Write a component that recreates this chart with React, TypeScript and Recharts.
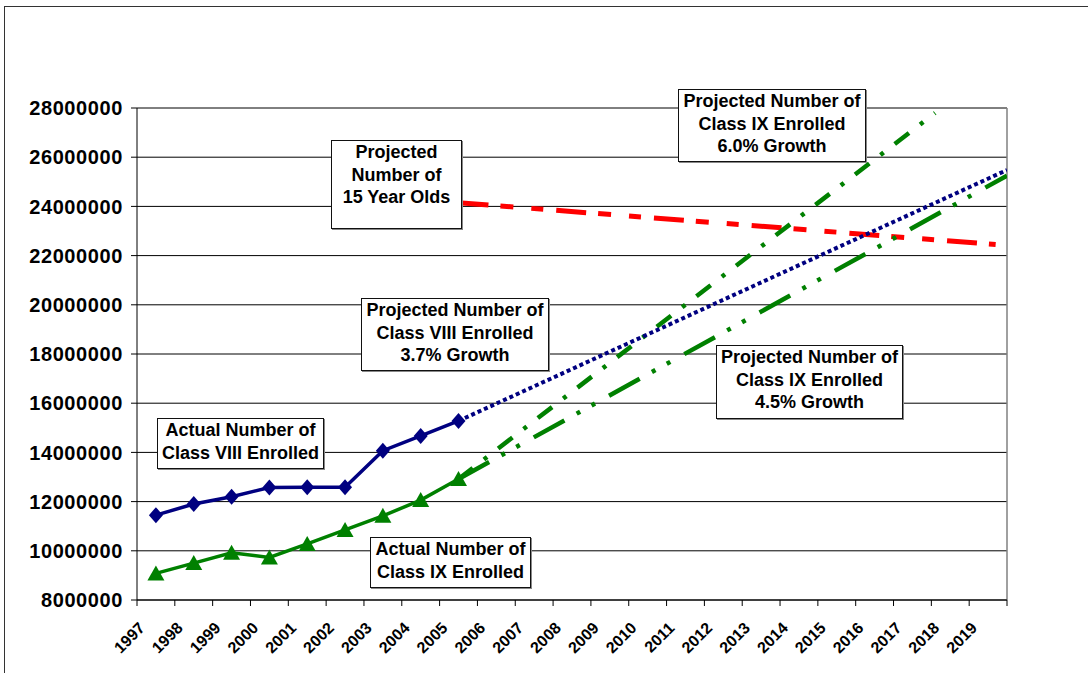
import React from "react";
import {
  LineChart,
  Line,
  XAxis,
  YAxis,
  CartesianGrid,
  ReferenceLine,
} from "recharts";

const years = [
  1997, 1998, 1999, 2000, 2001, 2002, 2003, 2004, 2005, 2006, 2007, 2008,
  2009, 2010, 2011, 2012, 2013, 2014, 2015, 2016, 2017, 2018, 2019,
];
const actualYears = [1997, 1998, 1999, 2000, 2001, 2002, 2003, 2004, 2005];
const class8Actual = [
  11450000, 11900000, 12200000, 12570000, 12580000, 12580000, 14070000,
  14670000, 15280000,
];
const class9Actual = [
  9080000, 9500000, 9920000, 9730000, 10280000, 10850000, 11420000, 12060000,
  12920000,
];

// projections as drawn (start at 2005, end where the picture ends them)
const class8ProjYears = [2005, 2019.5];
const class8ProjValues = [15280000, 25480000];
const class9Proj6Years = [2005, 2017.6];
const class9Proj6Values = [12920000, 27800000];
const class9Proj45Years = [2005, 2019.5];
const class9Proj45Values = [12920000, 25250000];
const popYears = [2005, 2019.2];
const popValues = [24150000, 22450000];

const yTicks = [
  8000000, 10000000, 12000000, 14000000, 16000000, 18000000, 20000000,
  22000000, 24000000, 26000000, 28000000,
];

const toRows = (xs: number[], vs: number[]) =>
  xs.map((year, i) => ({ year, value: vs[i] }));

const FONT = "'Liberation Sans', Arial, sans-serif";
const NAVY = "#000080";
const GREEN = "#008000";
const PLOT_LEFT = 137;
const PLOT_RIGHT = 1007;
const PLOT_BOTTOM = 600;
const BAND = (PLOT_RIGHT - PLOT_LEFT) / years.length;

const Diamond = (p: any) => {
  const { cx, cy } = p;
  if (cx == null || cy == null) return null;
  return (
    <path
      d={`M${cx},${cy - 8} L${cx + 7},${cy} L${cx},${cy + 8} L${cx - 7},${cy} Z`}
      fill={NAVY}
    />
  );
};

const Triangle = (p: any) => {
  const { cx, cy } = p;
  if (cx == null || cy == null) return null;
  return (
    <path
      d={`M${cx},${cy - 8} L${cx + 8.5},${cy + 7} L${cx - 8.5},${cy + 7} Z`}
      fill={GREEN}
    />
  );
};

const YearTick = (props: any) => {
  const { x, payload } = props;
  const ax = x - 10;
  const ay = 629;
  const left = x - BAND / 2;
  const isLast = payload.value === years[years.length - 1];
  return (
    <g>
      <line x1={left} y1={PLOT_BOTTOM} x2={left} y2={PLOT_BOTTOM + 6} stroke="#000" />
      {isLast && (
        <line
          x1={x + BAND / 2}
          y1={PLOT_BOTTOM}
          x2={x + BAND / 2}
          y2={PLOT_BOTTOM + 6}
          stroke="#000"
        />
      )}
      <text
        x={ax}
        y={ay}
        textAnchor="end"
        transform={`rotate(-45 ${ax} ${ay})`}
        style={{ fontFamily: FONT, fontSize: 16, fontWeight: 700 }}
        fill="#000"
      >
        {payload.value}
      </text>
    </g>
  );
};

const boxStyle: React.CSSProperties = {
  position: "absolute",
  background: "#fff",
  border: "1.5px solid #111",
  boxShadow: "1px 1px 0 #888",
  fontFamily: FONT,
  fontWeight: 700,
  fontSize: 18,
  lineHeight: "22.5px",
  textAlign: "center",
  boxSizing: "border-box",
  color: "#000",
  whiteSpace: "nowrap",
};

const Note = ({
  x,
  y,
  w,
  h,
  lines,
}: {
  x: number;
  y: number;
  w: number;
  h: number;
  lines: string[];
}) => (
  <div style={{ ...boxStyle, left: x, top: y, width: w, height: h, paddingTop: 0 }}>
    {lines.map((l, i) => (
      <div key={i}>{l}</div>
    ))}
  </div>
);

export default function App() {
  const class8Rows = toRows(actualYears, class8Actual);
  const class9Rows = toRows(actualYears, class9Actual);

  return (
    <div
      style={{
        position: "absolute",
        left: 0,
        top: 0,
        width: 1088,
        height: 673,
        background: "#fff",
        overflow: "hidden",
      }}
    >
      <div
        style={{
          position: "absolute",
          left: 4,
          top: 6,
          width: 1200,
          height: 800,
          borderTop: "1.5px solid #333",
          borderLeft: "1.5px solid #333",
        }}
      />
      <div style={{ position: "absolute", left: 0, top: 0 }}>
        <LineChart
          width={1088}
          height={673}
          margin={{ top: 108, right: 1088 - PLOT_RIGHT, bottom: 0, left: 0 }}
        >
          <CartesianGrid horizontal vertical={false} stroke="#000" strokeWidth={1} />
          <XAxis
            dataKey="year"
            type="number"
            domain={[1996.5, 2019.5]}
            ticks={years}
            interval={0}
            allowDataOverflow
            height={673 - PLOT_BOTTOM}
            axisLine={{ stroke: "#000" }}
            tickLine={false}
            tick={<YearTick />}
          />
          <YAxis
            type="number"
            domain={[8000000, 28000000]}
            ticks={yTicks}
            interval={0}
            width={PLOT_LEFT}
            allowDataOverflow
            axisLine={{ stroke: "#000" }}
            tickLine={{ stroke: "#000" }}
            tickSize={6}
            tickMargin={8}
            tickFormatter={(v: number) => String(v)}
            tick={{
              fill: "#000",
              fontFamily: FONT,
              fontSize: 20,
              fontWeight: 700,
              letterSpacing: 0.6,
            }}
          />
          <ReferenceLine x={2019.5} stroke="#808080" strokeWidth={1.5} />
          <Line
            data={toRows(popYears, popValues)}
            dataKey="value"
            stroke="#ff0000"
            strokeWidth={5}
            strokeDasharray="30 12 13 18 12 13"
            dot={false}
            isAnimationActive={false}
          />
          <Line
            data={toRows(class9Proj6Years, class9Proj6Values)}
            dataKey="value"
            stroke={GREEN}
            strokeWidth={4.5}
            strokeDasharray="18 14 4 14"
            dot={false}
            isAnimationActive={false}
          />
          <Line
            data={toRows(class9Proj45Years, class9Proj45Values)}
            dataKey="value"
            stroke={GREEN}
            strokeWidth={4.5}
            strokeDasharray="35 14 4 13 4 16"
            dot={false}
            isAnimationActive={false}
          />
          <Line
            data={toRows(class8ProjYears, class8ProjValues)}
            dataKey="value"
            stroke={NAVY}
            strokeWidth={4}
            strokeDasharray="4 3"
            dot={false}
            isAnimationActive={false}
          />
          <Line
            data={class9Rows}
            dataKey="value"
            stroke={GREEN}
            strokeWidth={3.5}
            dot={(p: any) => <Triangle key={`t${p.index}`} {...p} />}
            isAnimationActive={false}
          />
          <Line
            data={class8Rows}
            dataKey="value"
            stroke={NAVY}
            strokeWidth={3.5}
            dot={(p: any) => <Diamond key={`d${p.index}`} {...p} />}
            isAnimationActive={false}
          />
        </LineChart>
      </div>
      <Note x={331} y={140} w={131} h={89} lines={["Projected", "Number of", "15 Year Olds"]} />
      <Note
        x={678}
        y={89}
        w={188}
        h={73}
        lines={["Projected Number of", "Class IX Enrolled", "6.0% Growth"]}
      />
      <Note
        x={361}
        y={298}
        w={188}
        h={73}
        lines={["Projected Number of", "Class VIII Enrolled", "3.7% Growth"]}
      />
      <Note
        x={716}
        y={345}
        w={187}
        h={74}
        lines={["Projected Number of", "Class IX Enrolled", "4.5% Growth"]}
      />
      <Note x={157} y={418} w={167} h={51} lines={["Actual Number of", "Class VIII Enrolled"]} />
      <Note x={370} y={537} w={161} h={51} lines={["Actual Number of", "Class IX Enrolled"]} />
    </div>
  );
}
